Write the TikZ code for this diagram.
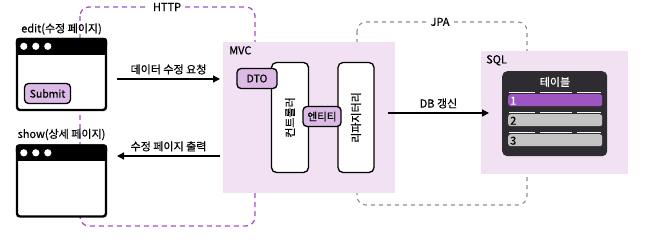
\documentclass[tikz,border=0pt]{standalone}
\usepackage{fontspec}
\setmainfont{Noto Sans CJK KR}[FakeBold=0.5]
\usetikzlibrary{arrows.meta, positioning, calc}
\definecolor{HttpViolet}{HTML}{A64FCB}
\definecolor{ZoneLilac}{HTML}{F1E1F3}
\definecolor{ChipLilac}{HTML}{DBBBE6}
\definecolor{RowViolet}{HTML}{9D55C2}
\definecolor{RowGray}{HTML}{C3C3C3}
\definecolor{TableDark}{HTML}{2F2C31}
\definecolor{JpaGray}{HTML}{8E8E8E}

\tikzset{
  page/.style={draw=black, line width=2.4pt, rounded corners=3pt, fill=white,
    minimum width=89pt, minimum height=71pt, inner sep=0pt},
  chip/.style={draw=black, line width=1.3pt, rounded corners=4pt, fill=ChipLilac,
    inner sep=0pt, minimum height=20pt, font=\fontsize{10.5}{12}\selectfont},
  tier/.style={draw=black, line width=1.3pt, rounded corners=5pt, fill=white,
    minimum width=37pt, minimum height=110pt, inner sep=0pt},
  tag/.style={font=\fontsize{11}{13}\selectfont, inner sep=1pt},
  zone/.style={fill=ZoneLilac, inner sep=0pt},
  tablerow/.style={rounded corners=2.5pt, minimum width=94pt, minimum height=12pt,
    inner sep=0pt, anchor=north west},
}

\begin{document}
\begin{tikzpicture}[x=1pt, y=-1pt, >={Triangle[length=7pt, width=7pt]}]
  \useasboundingbox (0,0) rectangle (668,247);
  % Frames
  \draw[HttpViolet, line width=1.3pt, dash pattern=on 5pt off 4pt, rounded corners=9pt]
    (80,7) rectangle (255,226);
  \node[tag, fill=white, inner xsep=4pt] (http) at (167,7) {HTTP};
  \draw[JpaGray, line width=1.1pt, dash pattern=on 4pt off 4pt, rounded corners=9pt]
    (357,22) rectangle (527,205);
  \node[tag, fill=white, inner xsep=4pt] (jpa) at (440,22) {JPA};
  % Zones
  \node[zone, minimum width=172pt, minimum height=151pt, anchor=north west] (mvc) at (223,42) {};
  \node[tag, anchor=north west] (mvclbl) at ($(mvc.north west)+(5,3)$) {MVC};
  \node[zone, minimum width=147pt, minimum height=123pt, anchor=north west] (sql) at (481,51) {};
  \node[tag, anchor=north west] (sqllbl) at ($(sql.north west)+(4,3)$) {SQL};
  % Browser windows
  \node[page] (edit) at (61.5,74.5) {};
  \node[page] (show) at (61.5,181) {};
  \foreach \w in {edit, show} {
    \fill[rounded corners=3pt] (\w.north west) rectangle ($(\w.north east)+(0,10)$);
    \fill ($(\w.north west)+(0,6)$) rectangle ($(\w.north east)+(0,17)$);
    \foreach \dx in {8,20,32}
      \fill[white] ($(\w.north west)+(\dx,8.5)$) circle[radius=3.6pt];
  }
  \node[tag, above=2pt of edit] (editlbl) {edit(수정 페이지)};
  \node[tag, above=3pt of show] (showlbl) {show(상세 페이지)};
  \node[chip, minimum width=46pt] (submit) at (47.5,93.5) {Submit};
  % Controller and repository
  \node[tier] (ctrl) at (290,117.5) {};
  \node[tag, rotate=90] (ctrllbl) at (ctrl) {컨트롤러};
  \node[tier, minimum width=36pt] (repo) at (356,117.5) {};
  \node[tag, rotate=90] (repolbl) at (repo) {리파지터리};
  \node[chip, minimum width=40pt] (dto) at (257,78.5) {DTO};
  \node[chip, minimum width=38pt] (entity) at (322,116.5) {엔티티};
  % Table
  \node[fill=TableDark, rounded corners=5pt, minimum width=105pt, minimum height=85pt,
    anchor=north west, inner sep=0pt] (table) at (502,71) {};
  \node[tag, text=white] (tablelbl) at (555,82) {테이블};
  \foreach \ry/\rc/\tc [count=\n] in {94/RowViolet/white, 114/RowGray/black, 134/RowGray/black} {
    \foreach \sx/\ex in {509/535, 540/572, 577/601}
      \draw[white, line width=1.4pt] (\sx,{\ry-1.5}) -- (\ex,{\ry-1.5});
    \node[tablerow, fill=\rc] (row\n) at (508,\ry) {};
    \node[tag, text=\tc, anchor=west] (num\n) at ($(row\n.west)+(1,0.5)$) {\n};
  }
  % Connectors
  \coordinate (reqA) at (117,79);
  \coordinate (reqB) at (220,79);
  \coordinate (resA) at (220,156);
  \coordinate (resB) at (117,156);
  \coordinate (dbA) at (388,113);
  \coordinate (dbB) at (489,113);
  \draw[->, line width=1.3pt] (reqA) -- node[tag, above=3pt] (reqlbl) {데이터 수정 요청} (reqB);
  \draw[->, line width=1.3pt] (resA) -- node[tag, above=3pt] (reslbl) {수정 페이지 출력} (resB);
  \draw[->, line width=1.3pt] (dbA) -- node[tag, above=3pt] (dblbl) {DB 갱신} (dbB);
\end{tikzpicture}
\end{document}
